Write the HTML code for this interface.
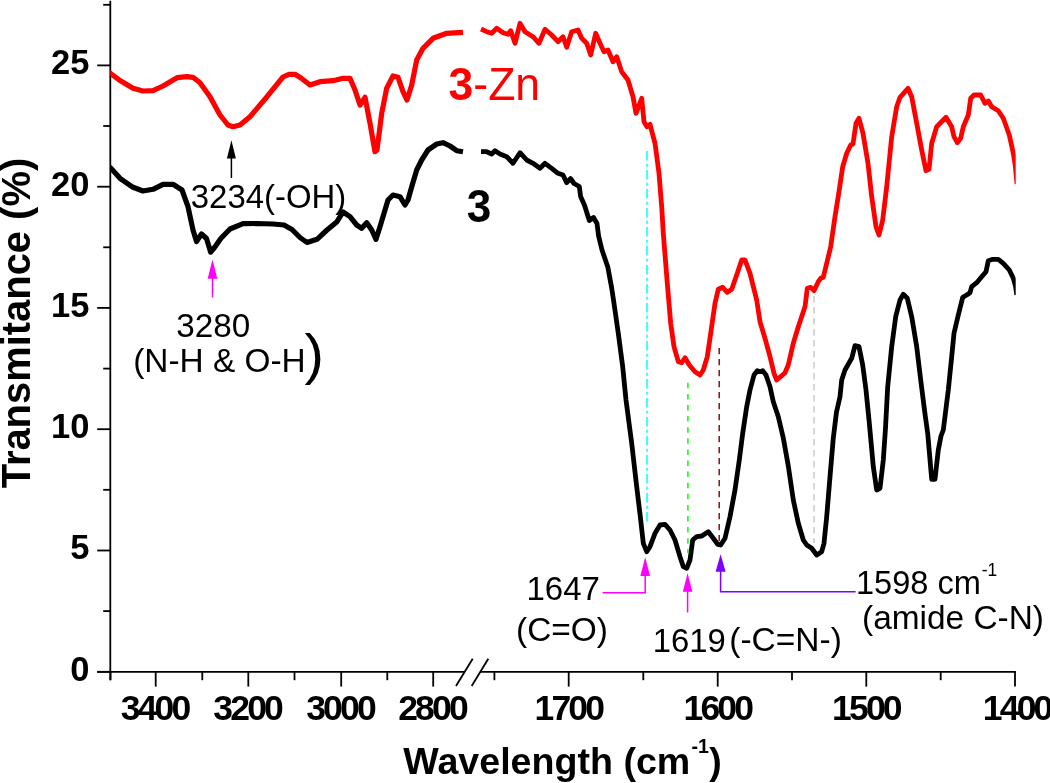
<!DOCTYPE html>
<html><head><meta charset="utf-8"><title>FTIR spectra</title>
<style>
html,body{margin:0;padding:0;background:#fff;}
svg{display:block;}
text{font-family:"Liberation Sans",sans-serif;fill:#000;}
.tk{font-size:34.5px;font-weight:bold;}
.lb{font-size:33px;}
.ti{font-weight:bold;}
</style></head><body>
<svg width="1050" height="783" viewBox="0 0 1050 783">
<defs><clipPath id="pc"><rect x="110.3" y="0" width="905.4" height="672"/></clipPath></defs>
<rect x="0" y="0" width="1050" height="783" fill="#fff"/>
<line x1="110.3" y1="0.8" x2="110.3" y2="680.2" stroke="#000" stroke-width="1.8"/>
<line x1="97.2" y1="671.8" x2="464.3" y2="671.8" stroke="#000" stroke-width="1.8"/>
<line x1="480" y1="671.8" x2="1015.9" y2="671.8" stroke="#000" stroke-width="1.8"/>
<line x1="456" y1="686" x2="472.7" y2="658.7" stroke="#000" stroke-width="1.8"/>
<line x1="471.7" y1="686" x2="488.3" y2="658.7" stroke="#000" stroke-width="1.8"/>
 <line x1="97.2" y1="671.8" x2="110.3" y2="671.8" stroke="#000" stroke-width="1.8"/>
<line x1="103.2" y1="611.1" x2="110.3" y2="611.1" stroke="#000" stroke-width="1.8"/>
<text x="89.4" y="680.6" text-anchor="end" class="tk">0</text>
 <line x1="97.2" y1="550.5" x2="110.3" y2="550.5" stroke="#000" stroke-width="1.8"/>
<line x1="103.2" y1="489.8" x2="110.3" y2="489.8" stroke="#000" stroke-width="1.8"/>
<text x="89.4" y="559.4" text-anchor="end" class="tk">5</text>
 <line x1="97.2" y1="429.2" x2="110.3" y2="429.2" stroke="#000" stroke-width="1.8"/>
<line x1="103.2" y1="368.6" x2="110.3" y2="368.6" stroke="#000" stroke-width="1.8"/>
<text x="89.4" y="438.1" text-anchor="end" class="tk">10</text>
 <line x1="97.2" y1="307.9" x2="110.3" y2="307.9" stroke="#000" stroke-width="1.8"/>
<line x1="103.2" y1="247.3" x2="110.3" y2="247.3" stroke="#000" stroke-width="1.8"/>
<text x="89.4" y="316.8" text-anchor="end" class="tk">15</text>
 <line x1="97.2" y1="186.7" x2="110.3" y2="186.7" stroke="#000" stroke-width="1.8"/>
<line x1="103.2" y1="126.0" x2="110.3" y2="126.0" stroke="#000" stroke-width="1.8"/>
<text x="89.4" y="195.6" text-anchor="end" class="tk">20</text>
 <line x1="97.2" y1="65.4" x2="110.3" y2="65.4" stroke="#000" stroke-width="1.8"/>
<line x1="103.2" y1="4.8" x2="110.3" y2="4.8" stroke="#000" stroke-width="1.8"/>
<text x="89.4" y="74.3" text-anchor="end" class="tk">25</text>
<line x1="155.7" y1="671.8" x2="155.7" y2="686.5999999999999" stroke="#000" stroke-width="1.8"/>
<text x="120.7" y="719.9" class="tk" style="font-size:35.5px" textLength="70.5" lengthAdjust="spacing">3400</text>
<line x1="248.3" y1="671.8" x2="248.3" y2="686.5999999999999" stroke="#000" stroke-width="1.8"/>
<text x="213.3" y="719.9" class="tk" style="font-size:35.5px" textLength="70.5" lengthAdjust="spacing">3200</text>
<line x1="341.2" y1="671.8" x2="341.2" y2="686.5999999999999" stroke="#000" stroke-width="1.8"/>
<text x="306.2" y="719.9" class="tk" style="font-size:35.5px" textLength="70.5" lengthAdjust="spacing">3000</text>
<line x1="433.2" y1="671.8" x2="433.2" y2="686.5999999999999" stroke="#000" stroke-width="1.8"/>
<text x="398.2" y="719.9" class="tk" style="font-size:35.5px" textLength="70.5" lengthAdjust="spacing">2800</text>
<line x1="110.5" y1="671.8" x2="110.5" y2="680.1999999999999" stroke="#000" stroke-width="1.8"/>
<line x1="202.3" y1="671.8" x2="202.3" y2="680.1999999999999" stroke="#000" stroke-width="1.8"/>
<line x1="294.5" y1="671.8" x2="294.5" y2="680.1999999999999" stroke="#000" stroke-width="1.8"/>
<line x1="387.3" y1="671.8" x2="387.3" y2="680.1999999999999" stroke="#000" stroke-width="1.8"/>
<line x1="568.7" y1="671.8" x2="568.7" y2="686.5999999999999" stroke="#000" stroke-width="1.8"/>
<text x="534.5" y="719.9" class="tk" style="font-size:35.5px" textLength="70.5" lengthAdjust="spacing">1700</text>
<line x1="717.7" y1="671.8" x2="717.7" y2="686.5999999999999" stroke="#000" stroke-width="1.8"/>
<text x="683.5" y="719.9" class="tk" style="font-size:35.5px" textLength="70.5" lengthAdjust="spacing">1600</text>
<line x1="866.3" y1="671.8" x2="866.3" y2="686.5999999999999" stroke="#000" stroke-width="1.8"/>
<text x="832.1" y="719.9" class="tk" style="font-size:35.5px" textLength="70.5" lengthAdjust="spacing">1500</text>
<line x1="1015" y1="671.8" x2="1015" y2="686.5999999999999" stroke="#000" stroke-width="1.8"/>
<text x="982.8" y="719.9" class="tk" style="font-size:35.5px" textLength="70.5" lengthAdjust="spacing">1400</text>
<line x1="494.4" y1="671.8" x2="494.4" y2="680.1999999999999" stroke="#000" stroke-width="1.8"/>
<line x1="643.3" y1="671.8" x2="643.3" y2="680.1999999999999" stroke="#000" stroke-width="1.8"/>
<line x1="792" y1="671.8" x2="792" y2="680.1999999999999" stroke="#000" stroke-width="1.8"/>
<line x1="940.7" y1="671.8" x2="940.7" y2="680.1999999999999" stroke="#000" stroke-width="1.8"/>
<polyline clip-path="url(#pc)" points="108.0,71.5 110.7,73.5 120.0,80.5 133.0,88.3 143.0,91.0 153.0,90.7 163.0,86.0 177.0,77.7 187.0,76.7 193.0,77.3 200.0,82.7 210.0,96.7 220.0,115.0 228.0,125.0 233.0,126.7 240.0,125.0 250.0,116.7 267.0,96.7 283.0,77.0 289.0,74.3 295.0,74.3 301.0,78.0 310.0,85.0 320.0,81.7 333.0,80.7 343.0,78.3 350.0,78.3 355.0,90.0 360.0,105.0 365.0,97.3 370.0,123.3 375.0,151.7 377.0,150.0 381.7,113.3 386.7,88.3 393.0,76.0 398.0,77.3 403.0,91.7 407.0,100.0 411.7,85.0 416.7,60.0 423.0,48.3 433.0,38.3 446.7,33.3 463.0,32.3" fill="none" stroke="#ff0000" stroke-width="5.2" stroke-linejoin="round" stroke-linecap="butt"/>
<polyline clip-path="url(#pc)" points="481.0,29.0 486.7,31.7 491.7,33.3 496.7,28.3 503.0,32.7 508.0,34.3 510.7,30.7 515.0,43.3 520.0,23.3 525.0,31.7 533.0,36.7 539.0,43.3 545.0,29.3 551.7,35.0 558.0,41.7 563.0,36.7 566.7,47.3 571.7,31.7 578.0,30.0 581.7,38.3 586.7,43.3 590.7,55.0 595.7,33.3 600.0,43.3 604.0,51.7 608.0,50.0 613.0,61.7 616.7,56.7 621.7,71.7 628.0,80.0 633.0,96.7 636.0,113.3 641.7,98.3 644.0,121.7 647.0,126.7 650.0,124.3 655.0,143.3 659.0,173.3 661.7,206.7 663.3,233.3 667.3,283.3 670.7,323.3 674.0,346.7 678.3,361.7 681.7,362.7 685.0,357.7 689.3,365.0 695.0,371.7 700.0,375.0 703.3,370.0 707.3,356.7 710.7,333.3 715.0,303.3 718.3,289.3 722.7,287.3 727.3,292.3 731.7,289.3 736.7,275.0 741.7,260.0 745.0,260.0 750.0,273.3 756.7,300.0 760.0,321.7 765.0,338.3 770.0,356.7 774.0,373.3 776.7,380.0 780.7,376.7 785.0,372.7 788.3,365.0 793.3,343.3 798.3,326.7 805.0,306.7 807.3,288.3 810.7,287.3 814.0,290.7 818.3,281.7 820.7,278.3 823.3,277.3 826.7,263.3 830.7,246.7 835.0,216.7 839.0,191.7 842.7,166.7 846.7,153.3 850.7,145.0 853.0,144.0 856.0,123.3 859.0,118.3 863.0,133.3 868.0,163.3 871.7,196.7 876.0,226.7 879.0,235.0 882.7,220.0 886.7,186.7 891.7,136.7 896.7,106.7 900.0,97.3 908.0,88.3 911.7,96.7 916.7,123.3 921.7,150.0 926.0,170.7 929.0,169.3 931.7,143.3 936.7,126.7 946.0,117.3 951.7,126.7 954.0,136.7 957.3,142.7 960.7,138.3 963.3,126.7 968.3,115.0 970.7,98.3 974.0,95.0 980.7,95.0 985.0,103.3 988.3,101.0 991.7,106.7 998.3,110.7 1003.3,118.3 1009.3,135.0 1013.3,153.3 1015.3,166.0 1017.0,184.0" fill="none" stroke="#ff0000" stroke-width="4.8" stroke-linejoin="round" stroke-linecap="butt"/>
<polyline clip-path="url(#pc)" points="108.0,166.0 110.7,168.0 120.0,178.3 133.0,187.3 143.0,191.0 153.0,189.3 163.0,184.3 173.0,184.3 182.0,190.0 188.0,206.7 193.0,230.0 196.5,241.5 201.5,234.0 206.5,238.5 210.7,252.2 214.5,247.5 221.0,238.3 230.0,229.0 243.0,223.7 257.0,223.5 273.0,224.0 284.0,225.0 292.0,229.5 300.0,237.5 307.0,242.5 317.0,239.3 327.0,230.0 337.0,221.7 343.0,212.0 350.0,216.7 356.7,225.0 361.7,228.3 366.7,222.7 371.7,230.0 376.0,239.3 380.0,226.7 385.0,210.0 388.0,200.0 393.0,195.0 400.0,196.7 405.0,205.0 408.0,200.0 411.7,186.7 416.7,170.0 421.7,160.0 428.0,150.0 436.7,144.0 443.0,142.7 450.0,146.0 456.7,150.7 463.0,151.7" fill="none" stroke="#000" stroke-width="5.2" stroke-linejoin="round" stroke-linecap="butt"/>
<polyline clip-path="url(#pc)" points="481.0,151.7 486.7,151.7 491.7,154.0 495.0,150.7 500.0,154.0 506.7,156.7 513.0,163.3 520.0,152.7 526.7,160.0 533.0,163.3 540.0,168.3 545.0,163.3 551.7,168.3 558.0,173.3 563.0,175.0 566.7,182.7 570.5,178.5 574.0,183.5 579.3,186.5 580.6,196.5 584.6,205.5 589.3,220.5 593.5,217.5 597.0,223.5 598.6,236.0 602.0,250.0 607.8,267.0 611.5,287.0 613.5,300.0 618.3,333.3 622.7,366.7 626.0,400.0 631.7,443.3 636.7,486.7 640.7,520.0 643.3,543.3 646.7,551.7 650.0,546.7 655.0,533.3 660.0,525.0 665.0,524.3 670.0,530.0 675.0,540.0 680.0,556.7 683.3,566.7 686.7,568.3 690.0,560.0 692.7,540.0 696.7,536.7 701.7,536.0 708.3,531.7 713.3,538.3 717.7,544.3 720.7,545.0 725.0,538.3 730.0,516.7 735.0,490.0 739.3,460.0 742.7,433.3 746.7,406.7 750.0,390.0 754.0,375.0 757.3,370.7 760.0,371.7 762.7,370.7 766.0,375.0 770.0,386.7 773.3,401.7 778.3,416.7 783.3,438.0 788.3,466.0 793.3,500.0 798.3,523.3 803.3,540.0 806.7,545.0 811.7,548.3 816.7,555.0 821.7,551.7 824.0,543.3 826.7,516.7 830.0,476.7 833.3,438.0 836.5,412.0 840.0,396.7 841.7,380.0 845.0,370.0 851.7,358.3 855.0,345.7 859.0,346.7 862.7,365.0 866.0,390.0 869.3,423.0 871.5,447.0 873.3,466.7 876.7,490.0 880.0,488.3 883.3,460.0 885.5,428.0 887.7,386.7 891.7,346.7 895.7,316.7 900.0,300.0 903.3,294.3 907.3,298.3 911.7,316.7 916.7,346.7 920.7,380.0 925.0,414.0 927.7,433.3 931.7,479.3 935.0,479.3 938.3,450.0 941.0,436.0 943.3,430.0 948.3,390.0 951.7,356.7 954.0,333.3 958.3,315.0 962.7,297.3 966.7,295.0 970.0,292.7 971.7,286.7 976.7,282.7 981.7,276.7 986.0,271.7 988.3,260.7 992.7,259.3 998.3,259.3 1003.3,263.3 1009.3,270.0 1013.3,278.3 1015.5,286.0 1016.8,295.0" fill="none" stroke="#000" stroke-width="4.8" stroke-linejoin="round" stroke-linecap="butt"/>
<line x1="647" y1="151" x2="647" y2="522.7" stroke="#00ffff" stroke-width="1.5" stroke-dasharray="9.5 3.2 3 3.3"/>
<line x1="687.9" y1="382.8" x2="687.9" y2="553" stroke="#00ff00" stroke-width="1.5" stroke-dasharray="5.5 5.6"/>
<line x1="719.2" y1="348" x2="719.2" y2="543" stroke="#800000" stroke-width="1.4" stroke-dasharray="6.3 4.7"/>
<line x1="814" y1="296" x2="814" y2="543" stroke="#c6c6c6" stroke-width="1.4" stroke-dasharray="6.5 4.5"/>
<polygon points="231.4,140.3 226.9,158.5 235.9,158.5" fill="#000"/><line x1="231.4" y1="157.5" x2="231.4" y2="178" stroke="#000" stroke-width="1.5"/>
<polygon points="212.5,259.5 207.7,278.8 217.3,278.8" fill="#ff00ff"/><line x1="212.5" y1="277.8" x2="212.5" y2="297.5" stroke="#ff00ff" stroke-width="1.5"/>
<polygon points="687.6,573.2 682.8000000000001,591.8 692.4,591.8" fill="#ff00ff"/><line x1="687.6" y1="590.8" x2="687.6" y2="612.5" stroke="#ff00ff" stroke-width="1.5"/>
<polygon points="645.2,557 640.4,576 650,576" fill="#ff00ff"/>
<polyline points="645.2,575 645.2,592.8 602.6,592.8" fill="none" stroke="#ff00ff" stroke-width="1.5"/>
<polygon points="720.6,554.2 715.6,571.8 725.6,571.8" fill="#7f00ff"/>
<polyline points="720.6,571 720.6,591.7 855.6,591.7" fill="none" stroke="#7f00ff" stroke-width="1.5"/>
<text x="448.6" y="99.8" class="lb" style="font-size:47px;fill:#ff0000" textLength="91.5" lengthAdjust="spacingAndGlyphs"><tspan font-weight="bold">3</tspan>-Zn</text>
<text x="466.7" y="222.2" class="lb" style="font-size:46px;font-weight:bold" textLength="24.5" lengthAdjust="spacingAndGlyphs">3</text>
<text x="190.8" y="208.2" class="lb" textLength="155.5" lengthAdjust="spacingAndGlyphs">3234(-OH)</text>
<text x="176.3" y="337.3" class="lb" textLength="74" lengthAdjust="spacingAndGlyphs">3280</text>
<text x="133.2" y="371.8" class="lb" textLength="172.5" lengthAdjust="spacingAndGlyphs">(N-H &amp; O-H</text>
<text x="304.4" y="372.6" class="lb" style="font-size:56px" textLength="19.5" lengthAdjust="spacingAndGlyphs">)</text>
<text x="526.4" y="600.4" class="lb" textLength="73.5" lengthAdjust="spacingAndGlyphs">1647</text>
<text x="516" y="641.3" class="lb" textLength="92" lengthAdjust="spacingAndGlyphs">(C=O)</text>
<text x="652.8" y="652.4" class="lb" textLength="73" lengthAdjust="spacingAndGlyphs">1619</text>
<text x="729.3" y="651.2" class="lb" textLength="112.5" lengthAdjust="spacingAndGlyphs">(-C=N-)</text>
<text x="856" y="594.2" class="lb" textLength="125" lengthAdjust="spacingAndGlyphs">1598 cm</text>
<text x="981.8" y="576.3" class="lb" style="font-size:18px" textLength="15.5" lengthAdjust="spacingAndGlyphs">-1</text>
<text x="862" y="628.8" class="lb" textLength="182" lengthAdjust="spacingAndGlyphs">(amide C-N)</text>
<text x="403.3" y="774" class="ti" style="font-size:37.5px" textLength="287" lengthAdjust="spacingAndGlyphs">Wavelength (cm</text>
<text x="691.5" y="752.8" class="ti" style="font-size:20.5px" textLength="17.5" lengthAdjust="spacingAndGlyphs">-1</text>
<text x="709.3" y="774" class="ti" style="font-size:37.5px">)</text>
<text transform="translate(30.2,488.3) rotate(-90)" x="0" y="0" class="ti" style="font-size:41px" textLength="330.5" lengthAdjust="spacingAndGlyphs">Transmitance (%)</text>
</svg>
</body></html>
